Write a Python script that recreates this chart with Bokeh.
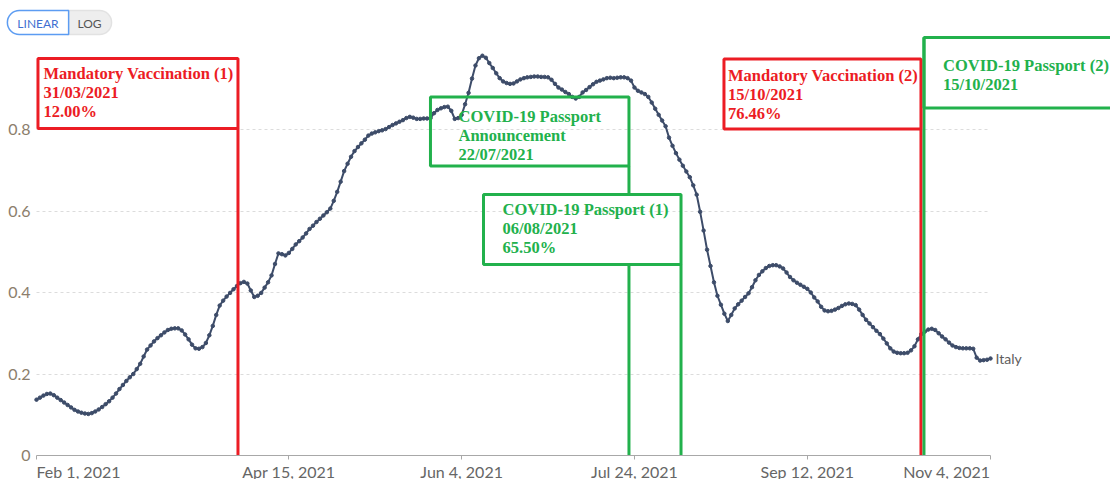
import datetime as dt
from bokeh.plotting import figure
from bokeh.models import (Range1d, FixedTicker, CustomJSTickFormatter, Label,
                          ColumnDataSource, Grid)
from bokeh.core.properties import value
from bokeh.embed import file_html
from bokeh.resources import INLINE

# ------------------------------------------------------------------ data
start_date = "2021-02-01"
italy = [
    0.137, 0.142, 0.147, 0.151, 0.152, 0.148, 0.142, 0.136, 0.130, 0.124,
    0.118, 0.112, 0.108, 0.105, 0.103, 0.102, 0.104, 0.108, 0.113, 0.119,
    0.126, 0.133, 0.142, 0.152, 0.163, 0.173, 0.183, 0.192, 0.200, 0.212,
    0.225, 0.243, 0.260, 0.270, 0.280, 0.288, 0.295, 0.302, 0.308, 0.311,
    0.312, 0.312, 0.307, 0.297, 0.285, 0.272, 0.263, 0.262, 0.266, 0.276,
    0.295, 0.318, 0.345, 0.368, 0.380, 0.390, 0.399, 0.408, 0.416, 0.423,
    0.426, 0.422, 0.405, 0.389, 0.392, 0.399, 0.412, 0.425, 0.442, 0.470,
    0.496, 0.494, 0.491, 0.497, 0.507, 0.518, 0.526, 0.535, 0.545, 0.556,
    0.564, 0.573, 0.581, 0.589, 0.597, 0.606, 0.625, 0.647, 0.672, 0.698,
    0.716, 0.733, 0.747, 0.757, 0.766, 0.775, 0.785, 0.790, 0.793, 0.796,
    0.798, 0.801, 0.806, 0.811, 0.815, 0.819, 0.823, 0.828, 0.831, 0.829,
    0.826, 0.826, 0.827, 0.827, 0.828, 0.840, 0.848, 0.852, 0.855, 0.856,
    0.846, 0.826, 0.828, 0.836, 0.862, 0.890, 0.925, 0.957, 0.975, 0.981,
    0.976, 0.963, 0.951, 0.938, 0.926, 0.918, 0.914, 0.912, 0.913, 0.918,
    0.923, 0.926, 0.928, 0.929, 0.930, 0.930, 0.929, 0.929, 0.928, 0.922,
    0.912, 0.903, 0.898, 0.892, 0.887, 0.880, 0.876, 0.880, 0.891, 0.897,
    0.904, 0.911, 0.917, 0.920, 0.923, 0.926, 0.927, 0.926, 0.927, 0.928,
    0.928, 0.926, 0.920, 0.903, 0.895, 0.891, 0.887, 0.880, 0.866, 0.851,
    0.836, 0.822, 0.808, 0.780, 0.760, 0.742, 0.726, 0.711, 0.697, 0.683,
    0.663, 0.640, 0.598, 0.552, 0.505, 0.465, 0.425, 0.392, 0.370, 0.348,
    0.330, 0.345, 0.361, 0.371, 0.380, 0.389, 0.398, 0.413, 0.430, 0.443,
    0.452, 0.460, 0.465, 0.467, 0.467, 0.464, 0.459, 0.449, 0.438, 0.430,
    0.424, 0.419, 0.414, 0.409, 0.400, 0.388, 0.378, 0.365, 0.356, 0.354,
    0.355, 0.358, 0.362, 0.367, 0.371, 0.373, 0.372, 0.369, 0.358, 0.345,
    0.333, 0.324, 0.315, 0.306, 0.298, 0.287, 0.275, 0.263, 0.255, 0.252,
    0.251, 0.251, 0.252, 0.258, 0.268, 0.285, 0.298, 0.304, 0.309, 0.311,
    0.308, 0.300, 0.292, 0.285, 0.277, 0.270, 0.266, 0.264, 0.263, 0.263,
    0.263, 0.262, 0.240, 0.233, 0.234, 0.235, 0.238,
]
series_label = "Italy"
x_tick_dates = ["2021-02-01", "2021-04-15", "2021-06-04", "2021-07-24",
                "2021-09-12", "2021-11-04"]
y_ticks = [0, 0.2, 0.4, 0.6, 0.8]

event_dates = ["2021-03-31", "2021-07-22", "2021-08-06", "2021-10-15", "2021-10-15"]
event_texts = [
    ["Mandatory Vaccination (1)", "31/03/2021", "12.00%"],
    ["COVID-19 Passport", "Announcement", "22/07/2021"],
    ["COVID-19 Passport (1)", "06/08/2021", "65.50%"],
    ["Mandatory Vaccination (2)", "15/10/2021", "76.46%"],
    ["COVID-19 Passport (2)", "15/10/2021"],
]
event_types = ["mandate", "passport", "passport", "mandate", "passport"]
scale_options = ["LINEAR", "LOG"]

# ------------------------------------------------------------------ layout / style
W, H = 1110, 479
X_FIRST, X_LAST = 36, 990     # canvas px of first / last date tick
Y_ZERO, Y_08 = 455, 129       # canvas px of y=0 and y=0.8

LINE_COLOR = "#3d4c69"
RED = "#ec1c24"
GREEN = "#22b14c"
TYPE_COLOR = {"mandate": RED, "passport": GREEN}
AXIS_TEXT = "#666666"

# annotation boxes in canvas pixels
EVENT_LAYOUT = [
    dict(side="left", w=200, top=58, bottom=128, tx=5.5, rows=[72.5, 91.5, 110.5], dx=1.0),
    dict(side="left", w=198.5, top=96.5, bottom=165.5, tx=28, rows=[116, 135, 154], dx=1.4),
    dict(side="left", w=197.5, top=194, bottom=264, tx=19, rows=[209, 228, 247], dx=1.6),
    dict(side="left", w=197, top=58.5, bottom=128.5, tx=4, rows=[75, 94, 113], dx=-0.4),
    dict(side="right", w=400, top=37, bottom=107.5, tx=19, rows=[65, 83.5], dx=2.6),
]


def parse(s):
    return dt.datetime.strptime(s, "%Y-%m-%d")


d0 = parse(start_date)
dates = [d0 + dt.timedelta(days=i) for i in range(len(italy))]
tick_dt = [parse(s) for s in x_tick_dates]
span_days = (tick_dt[-1] - tick_dt[0]).days
ppd = (X_LAST - X_FIRST) / span_days
ppu = (Y_ZERO - Y_08) / 0.8
EPOCH = dt.datetime(1970, 1, 1)


def x_at(px):
    return tick_dt[0] + dt.timedelta(days=(px - X_FIRST) / ppd)


def y_at(py):
    return (Y_ZERO - py) / ppu


def px_of(d):
    return X_FIRST + (d - tick_dt[0]).total_seconds() / 86400.0 * ppd


def ms(d):
    return (d - EPOCH).total_seconds() * 1000.0


def fmt_date(d):
    return d.strftime("%b ") + str(d.day) + d.strftime(", %Y")


p = figure(width=W, height=H, x_axis_type="datetime", output_backend="svg",
           toolbar_location=None,
           x_range=Range1d(x_at(0), x_at(W)), y_range=Range1d(y_at(H), y_at(0)),
           min_border=0)
p.min_border_left = p.min_border_right = p.min_border_top = p.min_border_bottom = 0
p.outline_line_color = None
p.background_fill_color = "white"
p.border_fill_color = "white"

# x axis drawn at y = 0
xa = p.xaxis[0]
xa.fixed_location = 0
xa.ticker = FixedTicker(ticks=[ms(d) for d in tick_dt])
xa.formatter = CustomJSTickFormatter(
    args=dict(first=ms(tick_dt[0]), last=ms(tick_dt[-1])),
    code="""
    const mo = ["Jan","Feb","Mar","Apr","May","Jun","Jul","Aug","Sep","Oct","Nov","Dec"];
    if (Math.abs(tick - first) < 1 || Math.abs(tick - last) < 1) return "";
    const d = new Date(tick);
    return mo[d.getUTCMonth()] + " " + d.getUTCDate() + ", " + d.getUTCFullYear();
    """)
xa.bounds = (ms(tick_dt[0]), ms(tick_dt[-1]))
xa.axis_line_color = "#a8a8a8"
xa.major_tick_line_color = "#a8a8a8"
xa.major_tick_out = 4
xa.major_tick_in = 0
xa.minor_tick_line_color = None
xa.major_label_text_font = "Lato"
xa.major_label_text_font_size = "16px"
xa.major_label_text_color = AXIS_TEXT
xa.major_label_standoff = 2

# y axis drawn at the first date
ya = p.yaxis[0]
ya.fixed_location = ms(tick_dt[0])
ya.ticker = FixedTicker(ticks=y_ticks)
ya.formatter = CustomJSTickFormatter(code="return tick == 0 ? '0' : tick.toFixed(1);")
ya.axis_line_color = None
ya.major_tick_line_color = None
ya.minor_tick_line_color = None
ya.major_tick_out = 0
ya.major_tick_in = 0
ya.major_label_text_font = "Lato"
ya.major_label_text_font_size = "16px"
ya.major_label_text_color = "#8c7e6c"
ya.major_label_standoff = 6

# grid
p.xgrid.visible = False
yg = p.ygrid[0]
grid_ticks = [t for t in y_ticks if t != 0]
yg.ticker = FixedTicker(ticks=grid_ticks)
yg.grid_line_color = "#dcdcdc"
yg.grid_line_dash = "3 3"
yg.grid_line_width = 1
if "cross_bounds" in Grid.properties():
    yg.cross_bounds = (ms(tick_dt[0]), ms(tick_dt[-1]))
else:
    yg.visible = False
    p.multi_line(xs=[[tick_dt[0], tick_dt[-1]] for _ in grid_ticks],
                 ys=[[t, t] for t in grid_ticks],
                 line_color="#dcdcdc", line_dash="3 3", line_width=1)

# data line
src = ColumnDataSource(dict(date=dates, v=italy))
p.line("date", "v", source=src, line_color=LINE_COLOR, line_width=2)
p.scatter("date", "v", source=src, size=3.5, fill_color=LINE_COLOR,
          line_color=LINE_COLOR)
p.text(x=[dates[-1]], y=[italy[-1]], text=[series_label], x_offset=5,
       text_baseline="middle", text_font=value("Lato"), text_font_size="14px",
       text_color="#5d5d5d")

# event annotations
boxes = []
for d, lay in zip(event_dates, EVENT_LAYOUT):
    lx = px_of(parse(d)) + lay["dx"]
    if lay["side"] == "left":
        bl, br = lx - lay["w"], lx
    else:
        bl, br = lx, lx + lay["w"]
    boxes.append((lx, bl, br, lay["top"], lay["bottom"]))

seg = dict(x0=[], y0=[], x1=[], y1=[], c=[])
quad = dict(l=[], r=[], t=[], b=[], c=[])
txt = dict(x=[], y=[], s=[], c=[])
for i, (lx, bl, br, bt, bb) in enumerate(boxes):
    lay = EVENT_LAYOUT[i]
    col = TYPE_COLOR[event_types[i]]
    start = bb if lay["side"] == "left" else bt
    parts = [(start, Y_ZERO)]
    for j, (_, ol, orr, ot, ob) in enumerate(boxes):
        if j == i or not (ol + 1 < lx < orr - 1):
            continue
        new = []
        for a, b in parts:
            if ob <= a or ot >= b:
                new.append((a, b))
            else:
                if ot > a:
                    new.append((a, ot))
                if ob < b:
                    new.append((ob, b))
        parts = new
    for a, b in parts:
        seg["x0"].append(x_at(lx)); seg["x1"].append(x_at(lx))
        seg["y0"].append(y_at(a)); seg["y1"].append(y_at(b))
        seg["c"].append(col)
    quad["l"].append(x_at(bl)); quad["r"].append(x_at(br))
    quad["t"].append(y_at(bt)); quad["b"].append(y_at(bb))
    quad["c"].append(col)
    for line_text, ry in zip(event_texts[i], lay["rows"]):
        txt["x"].append(x_at(bl + lay["tx"]))
        txt["y"].append(y_at(ry))
        txt["s"].append(line_text)
        txt["c"].append(col)

p.segment("x0", "y0", "x1", "y1", source=ColumnDataSource(seg), line_color="c",
          line_width=3)
p.quad(left="l", right="r", top="t", bottom="b", source=ColumnDataSource(quad),
       fill_color=None, line_color="c", line_width=3)
p.text("x", "y", text="s", source=ColumnDataSource(txt), text_color="c",
       text_font=value("Liberation Serif"), text_font_style="bold",
       text_font_size="16.5px", text_baseline="middle", text_align="left")

# first / last date tick labels (aligned inward like the original)
LAB_TOP = Y_ZERO + xa.major_tick_out + xa.major_label_standoff
p.add_layout(Label(x=ms(tick_dt[0]), y=H - LAB_TOP, y_units="screen",
                   text=fmt_date(tick_dt[0]), text_align="left", text_baseline="top",
                   text_font="Lato", text_font_size="16px", text_color=AXIS_TEXT))
p.add_layout(Label(x=ms(tick_dt[-1]), y=H - LAB_TOP, y_units="screen",
                   text=fmt_date(tick_dt[-1]), text_align="right", text_baseline="top",
                   text_font="Lato", text_font_size="16px", text_color=AXIS_TEXT))

# LINEAR / LOG toggle
TOG_Y = H - 22


def toggle(text, cx, bg, border, color, pad_h, radius):
    kw = dict(x=cx, y=TOG_Y, x_units="screen", y_units="screen", text=text,
              text_align="center", text_baseline="middle", text_font="Lato",
              text_font_size="12px", text_color=color,
              background_fill_color=bg, border_line_color=border,
              border_line_width=1.5)
    try:
        return Label(padding=dict(left=pad_h, right=pad_h, top=5, bottom=4),
                     border_radius=radius, **kw)
    except Exception:
        return Label(**kw)


p.add_layout(toggle(scale_options[1], 89, "#eeeeee", "#e2e2e2", "#555555", 10,
                    dict(top_left=0, top_right=12, bottom_right=12, bottom_left=0)))
p.add_layout(toggle(scale_options[0], 37.5, "white", "#5c9cf2", "#3f6fd1", 10,
                    dict(top_left=12, top_right=0, bottom_right=0, bottom_left=12)))

open("out.html", "w").write(file_html(p, INLINE))
